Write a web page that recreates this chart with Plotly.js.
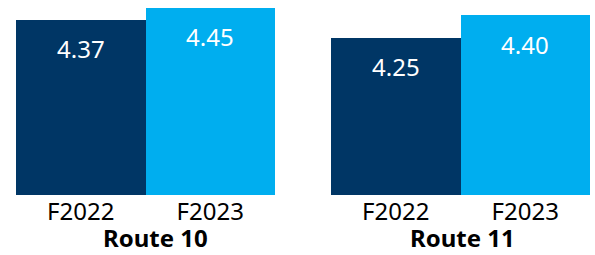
<!DOCTYPE html>
<html>
<head>
<meta charset="utf-8">
<script src="https://cdn.plot.ly/plotly-3.0.1.min.js"></script>
<style>html,body{margin:0;padding:0;background:#fff;}#chart{width:595px;height:255px;}</style>
</head>
<body>
<div id="chart"></div>
<script>
const years = ["F2022", "F2023"];
const routes = ["Route 10", "Route 11"];
const route10 = [4.37, 4.45];
const route11 = [4.25, 4.40];
const barColors = ["#003665", "#00AEEF"];

const FONT = "Noto Sans, Liberation Sans, sans-serif";

const traces = [
  {type: "bar", x: years, y: route10, xaxis: "x", yaxis: "y",
   marker: {color: barColors}, hoverinfo: "none"},
  {type: "bar", x: years, y: route11, xaxis: "x2", yaxis: "y2",
   marker: {color: barColors}, hoverinfo: "none"}
];

const annotations = [];
[[route10, "x", "y"], [route11, "x2", "y2"]].forEach(([vals, xr, yr]) => {
  vals.forEach((v, i) => {
    annotations.push({x: years[i], y: v, xref: xr, yref: yr, text: v.toFixed(2),
      showarrow: false, xanchor: "center", yanchor: "middle", yshift: -29,
      font: {family: FONT, size: 24, color: "#ffffff"}});
  });
});
annotations.push({x: 155/595, y: 0, xref: "paper", yref: "paper", xanchor: "center", yanchor: "bottom", yshift: -60,
  borderpad: 0, text: "<b>" + routes[0] + "</b>", showarrow: false, font: {family: FONT, size: 24, color: "#000"}});
annotations.push({x: 462/595, y: 0, xref: "paper", yref: "paper", xanchor: "center", yanchor: "bottom", yshift: -60,
  borderpad: 0, text: "<b>" + routes[1] + "</b>", showarrow: false, font: {family: FONT, size: 24, color: "#000"}});

const axX = {type: "category", showgrid: false, zeroline: false, showline: false, ticks: "",
  tickfont: {family: FONT, size: 24, color: "#000"}, fixedrange: true};
const axY = {range: [3.2, 4.5], visible: false, showgrid: false, zeroline: false, fixedrange: true};

const layout = {
  width: 595, height: 255,
  margin: {l: 0, r: 0, t: 0, b: 60},
  paper_bgcolor: "#fff", plot_bgcolor: "#fff",
  showlegend: false, bargap: 0,
  xaxis: Object.assign({}, axX, {domain: [16/595, 275/595], anchor: "y"}),
  xaxis2: Object.assign({}, axX, {domain: [331/595, 590/595], anchor: "y2"}),
  yaxis: Object.assign({}, axY, {anchor: "x"}),
  yaxis2: Object.assign({}, axY, {anchor: "x2"}),
  annotations: annotations
};

Plotly.newPlot("chart", traces, layout, {displayModeBar: false, staticPlot: true});
</script>
</body>
</html>
